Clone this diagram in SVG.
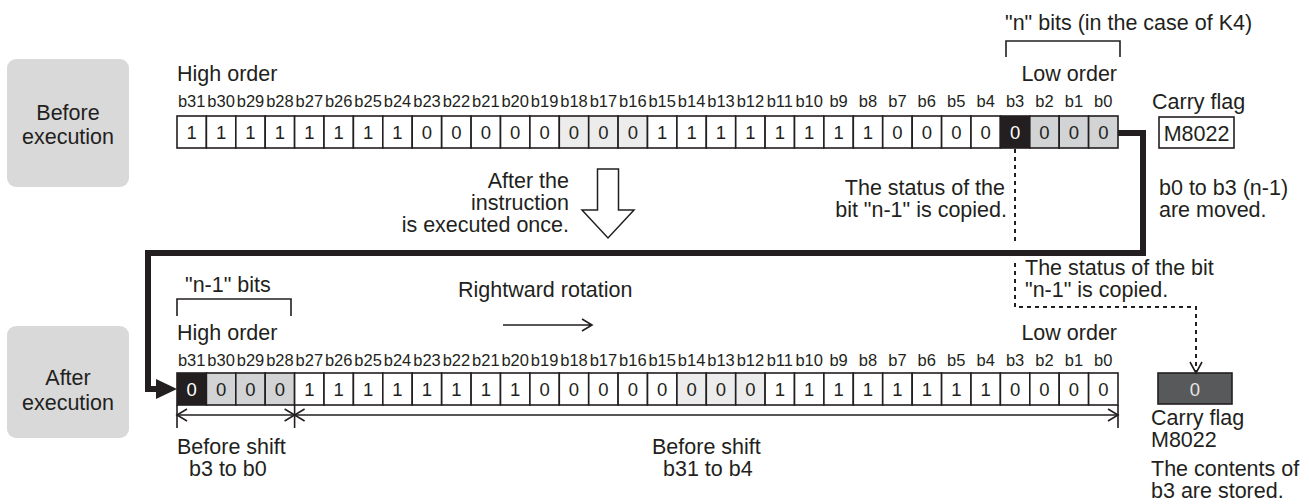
<svg xmlns="http://www.w3.org/2000/svg" width="1309" height="504" viewBox="0 0 1309 504">
<style>
text{font-family:"Liberation Sans",Arial,sans-serif;fill:#231f20}
.t{font-size:21.5px}
.b{font-size:16.5px;text-anchor:middle}
.d{font-size:18.5px;text-anchor:middle}
.w{fill:#ffffff}
.m{text-anchor:middle}
.e{text-anchor:end}
.c{fill:#ffffff;stroke:#231f20;stroke-width:1.6}
.k{fill:#231f20;stroke:#231f20;stroke-width:1.6}
.g{fill:#d1d3d4;stroke:#231f20;stroke-width:1.6}
.l{fill:#ececec;stroke:#231f20;stroke-width:1.6}
.ln{fill:none;stroke:#231f20;stroke-width:1.6}
.thick{fill:none;stroke:#231f20;stroke-width:6}
.dot{fill:none;stroke:#231f20;stroke-width:2;stroke-dasharray:4 4}
.box{fill:#d9d9da}
</style>

<g id="before-label">
<rect class="box" x="7" y="59" width="122" height="128" rx="9"/>
<text class="t m" x="68" y="120">Before</text>
<text class="t m" x="68" y="144">execution</text>
</g>

<g id="after-label">
<rect class="box" x="7" y="326" width="122" height="112" rx="9"/>
<text class="t m" x="68" y="385">After</text>
<text class="t m" x="68" y="410">execution</text>
</g>

<g id="row-before">
<text class="t" x="1005" y="30">"n" bits (in the case of K4)</text>
<path class="ln" d="M1006,57V41H1120V57"/>
<text class="t" x="177" y="81">High order</text>
<text class="t e" x="1117" y="81">Low order</text>
<g>
<rect class="c" x="177" y="116" width="29.4" height="32"/>
<rect class="c" x="206.4" y="116" width="29.4" height="32"/>
<rect class="c" x="235.8" y="116" width="29.4" height="32"/>
<rect class="c" x="265.2" y="116" width="29.4" height="32"/>
<rect class="c" x="294.6" y="116" width="29.4" height="32"/>
<rect class="c" x="324" y="116" width="29.4" height="32"/>
<rect class="c" x="353.4" y="116" width="29.4" height="32"/>
<rect class="c" x="382.8" y="116" width="29.4" height="32"/>
<rect class="c" x="412.2" y="116" width="29.4" height="32"/>
<rect class="c" x="441.7" y="116" width="29.4" height="32"/>
<rect class="c" x="471.1" y="116" width="29.4" height="32"/>
<rect class="c" x="500.5" y="116" width="29.4" height="32"/>
<rect class="c" x="529.9" y="116" width="29.4" height="32"/>
<rect class="l" x="559.3" y="116" width="29.4" height="32"/>
<rect class="l" x="588.7" y="116" width="29.4" height="32"/>
<rect class="l" x="618.1" y="116" width="29.4" height="32"/>
<rect class="c" x="647.5" y="116" width="29.4" height="32"/>
<rect class="c" x="676.9" y="116" width="29.4" height="32"/>
<rect class="c" x="706.3" y="116" width="29.4" height="32"/>
<rect class="c" x="735.7" y="116" width="29.4" height="32"/>
<rect class="c" x="765.1" y="116" width="29.4" height="32"/>
<rect class="c" x="794.5" y="116" width="29.4" height="32"/>
<rect class="c" x="823.9" y="116" width="29.4" height="32"/>
<rect class="c" x="853.3" y="116" width="29.4" height="32"/>
<rect class="c" x="882.7" y="116" width="29.4" height="32"/>
<rect class="c" x="912.2" y="116" width="29.4" height="32"/>
<rect class="c" x="941.6" y="116" width="29.4" height="32"/>
<rect class="c" x="971" y="116" width="29.4" height="32"/>
<rect class="k" x="1000.4" y="116" width="29.4" height="32"/>
<rect class="g" x="1029.8" y="116" width="29.4" height="32"/>
<rect class="g" x="1059.2" y="116" width="29.4" height="32"/>
<rect class="g" x="1088.6" y="116" width="29.4" height="32"/>
</g>
<g>
<text class="b" x="191.7" y="107">b31</text><text class="b" x="221.1" y="107">b30</text><text class="b" x="250.5" y="107">b29</text><text class="b" x="279.9" y="107">b28</text>
<text class="b" x="309.3" y="107">b27</text><text class="b" x="338.7" y="107">b26</text><text class="b" x="368.1" y="107">b25</text><text class="b" x="397.5" y="107">b24</text>
<text class="b" x="427" y="107">b23</text><text class="b" x="456.4" y="107">b22</text><text class="b" x="485.8" y="107">b21</text><text class="b" x="515.2" y="107">b20</text>
<text class="b" x="544.6" y="107">b19</text><text class="b" x="574" y="107">b18</text><text class="b" x="603.4" y="107">b17</text><text class="b" x="632.8" y="107">b16</text>
<text class="b" x="662.2" y="107">b15</text><text class="b" x="691.6" y="107">b14</text><text class="b" x="721" y="107">b13</text><text class="b" x="750.4" y="107">b12</text>
<text class="b" x="779.8" y="107">b11</text><text class="b" x="809.2" y="107">b10</text><text class="b" x="838.6" y="107">b9</text><text class="b" x="868" y="107">b8</text>
<text class="b" x="897.4" y="107">b7</text><text class="b" x="926.8" y="107">b6</text><text class="b" x="956.3" y="107">b5</text><text class="b" x="985.7" y="107">b4</text>
<text class="b" x="1015.1" y="107">b3</text><text class="b" x="1044.5" y="107">b2</text><text class="b" x="1073.9" y="107">b1</text><text class="b" x="1103.3" y="107">b0</text>
</g>
<g>
<text class="d" x="191.7" y="138.5">1</text><text class="d" x="221.1" y="138.5">1</text><text class="d" x="250.5" y="138.5">1</text><text class="d" x="279.9" y="138.5">1</text>
<text class="d" x="309.3" y="138.5">1</text><text class="d" x="338.7" y="138.5">1</text><text class="d" x="368.1" y="138.5">1</text><text class="d" x="397.5" y="138.5">1</text>
<text class="d" x="427" y="138.5">0</text><text class="d" x="456.4" y="138.5">0</text><text class="d" x="485.8" y="138.5">0</text><text class="d" x="515.2" y="138.5">0</text>
<text class="d" x="544.6" y="138.5">0</text><text class="d" x="574" y="138.5">0</text><text class="d" x="603.4" y="138.5">0</text><text class="d" x="632.8" y="138.5">0</text>
<text class="d" x="662.2" y="138.5">1</text><text class="d" x="691.6" y="138.5">1</text><text class="d" x="721" y="138.5">1</text><text class="d" x="750.4" y="138.5">1</text>
<text class="d" x="779.8" y="138.5">1</text><text class="d" x="809.2" y="138.5">1</text><text class="d" x="838.6" y="138.5">1</text><text class="d" x="868" y="138.5">1</text>
<text class="d" x="897.4" y="138.5">0</text><text class="d" x="926.8" y="138.5">0</text><text class="d" x="956.3" y="138.5">0</text><text class="d" x="985.7" y="138.5">0</text>
<text class="d w" x="1015.1" y="138.5">0</text><text class="d" x="1044.5" y="138.5">0</text><text class="d" x="1073.9" y="138.5">0</text><text class="d" x="1103.3" y="138.5">0</text>
</g>
</g>

<g id="carry-before">
<text class="t" x="1152" y="109">Carry flag</text>
<rect class="c" x="1159" y="117" width="75" height="31"/>
<text class="t m" x="1196.5" y="140.5">M8022</text>
</g>

<g id="row-after">
<text class="t" x="185" y="292">"n-1" bits</text>
<path class="ln" d="M177,316V299H291V316"/>
<text class="t" x="177" y="340">High order</text>
<text class="t e" x="1117" y="340">Low order</text>
<g>
<rect class="k" x="177" y="373" width="29.4" height="32"/>
<rect class="g" x="206.4" y="373" width="29.4" height="32"/>
<rect class="g" x="235.8" y="373" width="29.4" height="32"/>
<rect class="g" x="265.2" y="373" width="29.4" height="32"/>
<rect class="c" x="294.6" y="373" width="29.4" height="32"/>
<rect class="c" x="324" y="373" width="29.4" height="32"/>
<rect class="c" x="353.4" y="373" width="29.4" height="32"/>
<rect class="c" x="382.8" y="373" width="29.4" height="32"/>
<rect class="c" x="412.2" y="373" width="29.4" height="32"/>
<rect class="c" x="441.7" y="373" width="29.4" height="32"/>
<rect class="c" x="471.1" y="373" width="29.4" height="32"/>
<rect class="c" x="500.5" y="373" width="29.4" height="32"/>
<rect class="c" x="529.9" y="373" width="29.4" height="32"/>
<rect class="c" x="559.3" y="373" width="29.4" height="32"/>
<rect class="c" x="588.7" y="373" width="29.4" height="32"/>
<rect class="c" x="618.1" y="373" width="29.4" height="32"/>
<rect class="c" x="647.5" y="373" width="29.4" height="32"/>
<rect class="l" x="676.9" y="373" width="29.4" height="32"/>
<rect class="l" x="706.3" y="373" width="29.4" height="32"/>
<rect class="l" x="735.7" y="373" width="29.4" height="32"/>
<rect class="c" x="765.1" y="373" width="29.4" height="32"/>
<rect class="c" x="794.5" y="373" width="29.4" height="32"/>
<rect class="c" x="823.9" y="373" width="29.4" height="32"/>
<rect class="c" x="853.3" y="373" width="29.4" height="32"/>
<rect class="c" x="882.7" y="373" width="29.4" height="32"/>
<rect class="c" x="912.2" y="373" width="29.4" height="32"/>
<rect class="c" x="941.6" y="373" width="29.4" height="32"/>
<rect class="c" x="971" y="373" width="29.4" height="32"/>
<rect class="c" x="1000.4" y="373" width="29.4" height="32"/>
<rect class="c" x="1029.8" y="373" width="29.4" height="32"/>
<rect class="c" x="1059.2" y="373" width="29.4" height="32"/>
<rect class="c" x="1088.6" y="373" width="29.4" height="32"/>
</g>
<g>
<text class="b" x="191.7" y="366">b31</text><text class="b" x="221.1" y="366">b30</text><text class="b" x="250.5" y="366">b29</text><text class="b" x="279.9" y="366">b28</text>
<text class="b" x="309.3" y="366">b27</text><text class="b" x="338.7" y="366">b26</text><text class="b" x="368.1" y="366">b25</text><text class="b" x="397.5" y="366">b24</text>
<text class="b" x="427" y="366">b23</text><text class="b" x="456.4" y="366">b22</text><text class="b" x="485.8" y="366">b21</text><text class="b" x="515.2" y="366">b20</text>
<text class="b" x="544.6" y="366">b19</text><text class="b" x="574" y="366">b18</text><text class="b" x="603.4" y="366">b17</text><text class="b" x="632.8" y="366">b16</text>
<text class="b" x="662.2" y="366">b15</text><text class="b" x="691.6" y="366">b14</text><text class="b" x="721" y="366">b13</text><text class="b" x="750.4" y="366">b12</text>
<text class="b" x="779.8" y="366">b11</text><text class="b" x="809.2" y="366">b10</text><text class="b" x="838.6" y="366">b9</text><text class="b" x="868" y="366">b8</text>
<text class="b" x="897.4" y="366">b7</text><text class="b" x="926.8" y="366">b6</text><text class="b" x="956.3" y="366">b5</text><text class="b" x="985.7" y="366">b4</text>
<text class="b" x="1015.1" y="366">b3</text><text class="b" x="1044.5" y="366">b2</text><text class="b" x="1073.9" y="366">b1</text><text class="b" x="1103.3" y="366">b0</text>
</g>
<g>
<text class="d w" x="191.7" y="395.5">0</text><text class="d" x="221.1" y="395.5">0</text><text class="d" x="250.5" y="395.5">0</text><text class="d" x="279.9" y="395.5">0</text>
<text class="d" x="309.3" y="395.5">1</text><text class="d" x="338.7" y="395.5">1</text><text class="d" x="368.1" y="395.5">1</text><text class="d" x="397.5" y="395.5">1</text>
<text class="d" x="427" y="395.5">1</text><text class="d" x="456.4" y="395.5">1</text><text class="d" x="485.8" y="395.5">1</text><text class="d" x="515.2" y="395.5">1</text>
<text class="d" x="544.6" y="395.5">0</text><text class="d" x="574" y="395.5">0</text><text class="d" x="603.4" y="395.5">0</text><text class="d" x="632.8" y="395.5">0</text>
<text class="d" x="662.2" y="395.5">0</text><text class="d" x="691.6" y="395.5">0</text><text class="d" x="721" y="395.5">0</text><text class="d" x="750.4" y="395.5">0</text>
<text class="d" x="779.8" y="395.5">1</text><text class="d" x="809.2" y="395.5">1</text><text class="d" x="838.6" y="395.5">1</text><text class="d" x="868" y="395.5">1</text>
<text class="d" x="897.4" y="395.5">1</text><text class="d" x="926.8" y="395.5">1</text><text class="d" x="956.3" y="395.5">1</text><text class="d" x="985.7" y="395.5">1</text>
<text class="d" x="1015.1" y="395.5">0</text><text class="d" x="1044.5" y="395.5">0</text><text class="d" x="1073.9" y="395.5">0</text><text class="d" x="1103.3" y="395.5">0</text>
</g>
</g>

<g id="carry-after">
<rect x="1158" y="373" width="74" height="31" fill="#58595b" stroke="#231f20" stroke-width="1.6"/>
<text class="d" x="1195" y="396" style="fill:#e6e6e6">0</text>
<text class="t" x="1151" y="425">Carry flag</text>
<text class="t" x="1151" y="447">M8022</text>
<text class="t" x="1151" y="476">The contents of</text>
<text class="t" x="1151" y="498">b3 are stored.</text>
</g>

<g id="execution-arrow">
<path d="M597.5,169H618.5V210H634L608,238L582,210H597.5Z" fill="#ffffff" stroke="#231f20" stroke-width="1.5"/>
<text class="t e" x="569" y="188">After the</text>
<text class="t e" x="569" y="210">instruction</text>
<text class="t e" x="569" y="232">is executed once.</text>
</g>

<g id="rotation-label">
<text class="t" x="458" y="297">Rightward rotation</text>
<path class="ln" d="M503,325H592M582,319L592,325L582,331"/>
</g>

<g id="notes">
<text class="t e" x="1005" y="195">The status of the</text>
<text class="t e" x="1007" y="217">bit "n-1" is copied.</text>
<text class="t" x="1159" y="195">b0 to b3 (n-1)</text>
<text class="t" x="1159" y="217">are moved.</text>
<text class="t" x="1025" y="275">The status of the bit</text>
<text class="t" x="1025" y="297">"n-1" is copied.</text>
</g>

<g id="shift-dimensions">
<path class="ln" d="M177,405V428M294.6,405V428M1118,405V428M177,415H1118"/>
<path class="ln" d="M187,409L177,415L187,421M284.6,409L294.6,415L284.6,421M304.6,409L294.6,415L304.6,421M1108,409L1118,415L1108,421"/>
<text class="t" x="177" y="454">Before shift</text>
<text class="t" x="189" y="476">b3 to b0</text>
<text class="t" x="652" y="454">Before shift</text>
<text class="t" x="663" y="476">b31 to b4</text>
</g>

<g id="connectors">
<path class="thick" d="M1118,133H1143V253H148V389H160"/>
<polygon points="156,379 177,389 156,399" fill="#231f20"/>
<path class="dot" d="M1015,149V244"/>
<path class="dot" d="M1015,263V307H1196V372"/>
<path class="ln" d="M1190,362L1196,373L1202,362"/>
</g>
</svg>
